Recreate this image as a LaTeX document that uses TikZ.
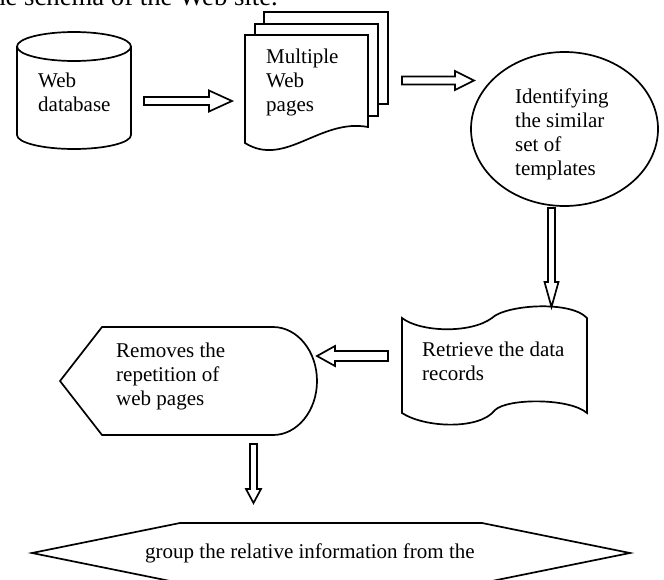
\documentclass[tikz,border=0pt]{standalone}
\usepackage{fontspec}
\setmainfont{Liberation Serif}
\usetikzlibrary{calc}
\newcommand\blkarrow[5]{%
  \coordinate (ba-h) at ($(#2)!#5!(#1)$);
  \draw[shp] ($(#1)!#3!90:(#2)$) -- ($(ba-h)!#3!90:(#2)$) -- ($(ba-h)!#4!90:(#2)$) -- (#2)
    -- ($(ba-h)!#4!-90:(#2)$) -- ($(ba-h)!#3!-90:(#2)$) -- ($(#1)!#3!-90:(#2)$) -- cycle;
}
\tikzset{
  shp/.style={draw=black, line width=1.7pt, fill=white, line join=miter},
  txt/.style={anchor=base west, inner sep=0pt, font=\fontsize{21}{24}\selectfont},
}
\begin{document}
\begin{tikzpicture}[x=1pt, y=-1pt]
\useasboundingbox (0,0) rectangle (664,579);
\clip (0,0) rectangle (664,579);
% caption (cut off at top, as in the reference)
\node[anchor=base east, inner sep=0pt, font=\fontsize{26.7}{30}\selectfont] (cap) at (278,5) {the schema of the Web site.};
% cylinder
\draw[shp] (17,46.5) -- (17,135) arc[start angle=180, end angle=360, x radius=57pt, y radius=14pt] -- (131,46.5);
\draw[shp] (74,46.5) ellipse[x radius=57pt, y radius=14.5pt];
% document stack
\draw[shp] (264,12) rectangle (388,104);
\draw[shp] (255,24) rectangle (378,116);
\draw[shp] (245,35) -- (368,35) -- (368,127) .. controls (320,118) and (285,168) .. (245,143) -- cycle;
% ellipse
\draw[shp] (564.5,129) ellipse[x radius=93.5pt, y radius=77pt];
% punched tape
\draw[shp] (402,318) .. controls (420,332) and (470,334) .. (492,318)
  .. controls (505,305) and (570,300) .. (587,318) -- (587,413)
  .. controls (570,398) and (508,398) .. (495,410)
  .. controls (480,430) and (425,428) .. (402,413) -- cycle;
% display shape
\draw[shp] (60,381) -- (102,327) -- (273,327) arc[start angle=90, end angle=-90, x radius=44pt, y radius=54pt] -- (102,435) -- cycle;
% hexagon
\draw[shp] (32,553) -- (180,523) -- (482,523) -- (630,553) -- (482,583) -- (180,583) -- cycle;
% texts
\node[txt] (db) at (38,87) {\begin{tabular}[t]{@{}l@{}}Web\\database\end{tabular}};
\node[txt] (pages) at (266,63) {\begin{tabular}[t]{@{}l@{}}Multiple\\Web\\pages\end{tabular}};
\node[txt] (ident) at (515,103) {\begin{tabular}[t]{@{}l@{}}Identifying\\the similar\\set of\\templates\end{tabular}};
\node[txt] (retr) at (422,356) {\begin{tabular}[t]{@{}l@{}}Retrieve the data\\records\end{tabular}};
\node[txt] (rem) at (116,357) {\begin{tabular}[t]{@{}l@{}}Removes the\\repetition of\\web pages\end{tabular}};
\node[txt] (group) at (145,558) {group the relative information from the};
% arrow end points
\coordinate (a1s) at (144,101); \coordinate (a1e) at (232,101);
\coordinate (a2s) at (402,80.5); \coordinate (a2e) at (474,80.5);
\coordinate (a3s) at (551.5,208); \coordinate (a3e) at (551.5,307);
\coordinate (a4s) at (388,356); \coordinate (a4e) at (317,356);
\coordinate (a5s) at (253.5,444); \coordinate (a5e) at (253.5,503);
\blkarrow{a1s}{a1e}{4pt}{10.5pt}{23pt}
\blkarrow{a2s}{a2e}{4pt}{9.5pt}{19pt}
\blkarrow{a3s}{a3e}{3.5pt}{7pt}{25pt}
\blkarrow{a4s}{a4e}{5pt}{10pt}{18pt}
\blkarrow{a5s}{a5e}{3.5pt}{7.5pt}{14pt}
\end{tikzpicture}
\end{document}
